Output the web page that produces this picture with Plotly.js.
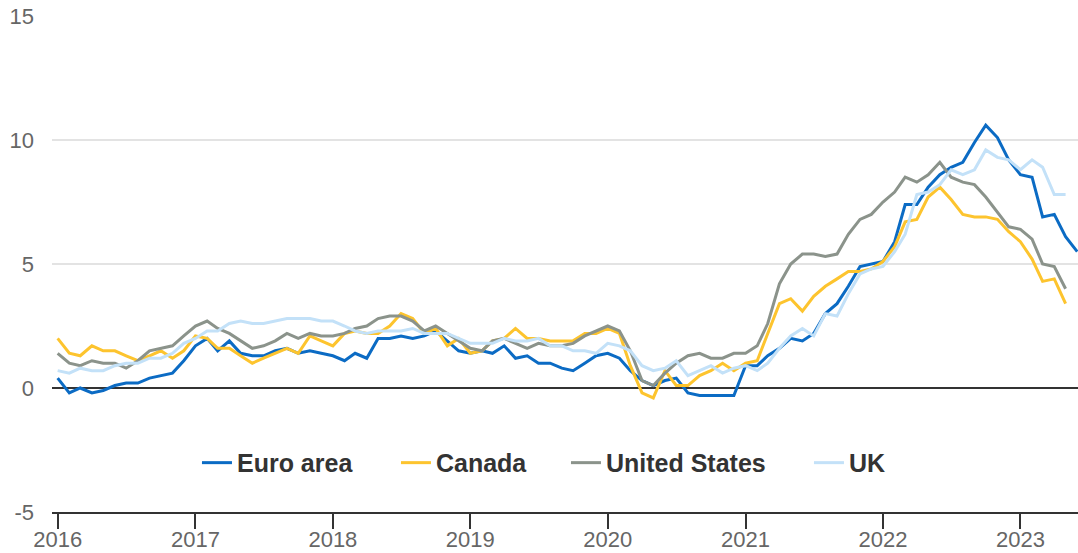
<!DOCTYPE html>
<html>
<head>
<meta charset="utf-8">
<script src="https://cdn.plot.ly/plotly-3.0.1.min.js"></script>
<style>
  html, body { margin: 0; padding: 0; background: #fff; }
  #chart { width: 1078px; height: 553px; }
</style>
</head>
<body>
<div id="chart"></div>
<script>
// Monthly annual inflation rates (%), January 2016 onwards
const startYear = 2016;
const seriesNames = ['Euro area', 'Canada', 'United States', 'UK'];
const seriesColors = ['#0b6bc4', '#fdc42e', '#8b938b', '#c3e1f8'];
const legendWidths = [154, 125, 198, 0];

const euroArea = [
  0.4, -0.2, 0.0, -0.2, -0.1, 0.1, 0.2, 0.2, 0.4, 0.5, 0.6, 1.1,
  1.7, 2.0, 1.5, 1.9, 1.4, 1.3, 1.3, 1.5, 1.6, 1.4, 1.5, 1.4,
  1.3, 1.1, 1.4, 1.2, 2.0, 2.0, 2.1, 2.0, 2.1, 2.3, 1.9, 1.5,
  1.4, 1.5, 1.4, 1.7, 1.2, 1.3, 1.0, 1.0, 0.8, 0.7, 1.0, 1.3,
  1.4, 1.2, 0.7, 0.3, 0.1, 0.3, 0.4, -0.2, -0.3, -0.3, -0.3, -0.3,
  0.9, 0.9, 1.3, 1.6, 2.0, 1.9, 2.2, 3.0, 3.4, 4.1, 4.9, 5.0,
  5.1, 5.9, 7.4, 7.4, 8.1, 8.6, 8.9, 9.1, 9.9, 10.6, 10.1, 9.2,
  8.6, 8.5, 6.9, 7.0, 6.1, 5.5
];
const canada = [
  2.0, 1.4, 1.3, 1.7, 1.5, 1.5, 1.3, 1.1, 1.3, 1.5, 1.2, 1.5,
  2.1, 2.0, 1.6, 1.6, 1.3, 1.0, 1.2, 1.4, 1.6, 1.4, 2.1, 1.9,
  1.7, 2.2, 2.3, 2.2, 2.2, 2.5, 3.0, 2.8, 2.2, 2.4, 1.7, 2.0,
  1.4, 1.5, 1.9, 2.0, 2.4, 2.0, 2.0, 1.9, 1.9, 1.9, 2.2, 2.2,
  2.4, 2.2, 0.9, -0.2, -0.4, 0.7, 0.1, 0.1, 0.5, 0.7, 1.0, 0.7,
  1.0, 1.1, 2.2, 3.4, 3.6, 3.1, 3.7, 4.1, 4.4, 4.7, 4.7, 4.8,
  5.1, 5.7, 6.7, 6.8, 7.7, 8.1, 7.6, 7.0, 6.9, 6.9, 6.8, 6.3,
  5.9, 5.2, 4.3, 4.4, 3.4
];
const unitedStates = [
  1.4, 1.0, 0.9, 1.1, 1.0, 1.0, 0.8, 1.1, 1.5, 1.6, 1.7, 2.1,
  2.5, 2.7, 2.4, 2.2, 1.9, 1.6, 1.7, 1.9, 2.2, 2.0, 2.2, 2.1,
  2.1, 2.2, 2.4, 2.5, 2.8, 2.9, 2.9, 2.7, 2.3, 2.5, 2.2, 1.9,
  1.6, 1.5, 1.9, 2.0, 1.8, 1.6, 1.8, 1.7, 1.7, 1.8, 2.1, 2.3,
  2.5, 2.3, 1.5, 0.3, 0.1, 0.6, 1.0, 1.3, 1.4, 1.2, 1.2, 1.4,
  1.4, 1.7, 2.6, 4.2, 5.0, 5.4, 5.4, 5.3, 5.4, 6.2, 6.8, 7.0,
  7.5, 7.9, 8.5, 8.3, 8.6, 9.1, 8.5, 8.3, 8.2, 7.7, 7.1, 6.5,
  6.4, 6.0, 5.0, 4.9, 4.0
];
const uk = [
  0.7, 0.6, 0.8, 0.7, 0.7, 0.9, 1.0, 1.0, 1.2, 1.2, 1.4, 1.8,
  2.0, 2.3, 2.3, 2.6, 2.7, 2.6, 2.6, 2.7, 2.8, 2.8, 2.8, 2.7,
  2.7, 2.5, 2.3, 2.2, 2.3, 2.3, 2.3, 2.4, 2.2, 2.2, 2.2, 2.0,
  1.8, 1.8, 1.8, 2.0, 1.9, 1.9, 2.0, 1.7, 1.7, 1.5, 1.5, 1.4,
  1.8, 1.7, 1.5, 0.9, 0.7, 0.8, 1.1, 0.5, 0.7, 0.9, 0.6, 0.8,
  0.9, 0.7, 1.0, 1.6, 2.1, 2.4, 2.1, 3.0, 2.9, 3.8, 4.6, 4.8,
  4.9, 5.5, 6.2, 7.8, 7.9, 8.2, 8.8, 8.6, 8.8, 9.6, 9.3, 9.2,
  8.8, 9.2, 8.9, 7.8, 7.8
];

const xTickYears = ['2016', '2017', '2018', '2019', '2020', '2021', '2022', '2023'];
const yTickValues = [-5, 0, 5, 10, 15];
const yTickLabels = ['-5', '0', '5', '10', '15'];

function monthDates(n) {
  const out = [];
  for (let i = 0; i < n; i++) {
    const y = startYear + Math.floor(i / 12);
    const m = (i % 12) + 1;
    out.push(y + '-' + (m < 10 ? '0' + m : m) + '-01');
  }
  return out;
}

const allSeries = [euroArea, canada, unitedStates, uk];
const traces = allSeries.map((vals, i) => {
  const t = {
    type: 'scatter',
    mode: 'lines',
    name: seriesNames[i],
    x: monthDates(vals.length),
    y: vals,
    line: { color: seriesColors[i], width: 3 },
    hoverinfo: 'skip'
  };
  if (legendWidths[i]) t.legendwidth = legendWidths[i];
  return t;
});

const fontFamily = '"Liberation Sans", Arial, Helvetica, sans-serif';

const layout = {
  width: 1078,
  height: 553,
  margin: { l: 52, r: 0, t: 16, b: 41, pad: 0 },
  paper_bgcolor: '#ffffff',
  plot_bgcolor: '#ffffff',
  font: { family: fontFamily, color: '#666666', size: 22 },
  showlegend: true,
  hovermode: false,
  xaxis: {
    type: 'date',
    range: ['2015-12-17', '2023-06-03'],
    tickmode: 'array',
    tickvals: xTickYears.map(y => y + '-01-01'),
    ticktext: xTickYears,
    ticks: 'outside',
    ticklen: 15,
    tickwidth: 2,
    tickcolor: '#333333',
    ticklabelstandoff: -8,
    showline: true,
    linecolor: '#333333',
    linewidth: 2,
    showgrid: false,
    zeroline: false,
    tickfont: { size: 22, color: '#666666', family: fontFamily },
    fixedrange: true
  },
  yaxis: {
    range: [-5, 15],
    tickmode: 'array',
    tickvals: yTickValues,
    ticktext: yTickLabels,
    showgrid: true,
    gridcolor: '#e3e3e3',
    gridwidth: 1.5,
    zeroline: true,
    zerolinecolor: '#333333',
    zerolinewidth: 1.5,
    showline: false,
    ticks: '',
    ticklabelstandoff: 17,
    tickfont: { size: 22, color: '#666666', family: fontFamily },
    fixedrange: true
  },
  legend: {
    orientation: 'h',
    x: 0.4795,
    xanchor: 'center',
    y: 0.099,
    yanchor: 'middle',
    bgcolor: 'rgba(0,0,0,0)',
    font: { size: 25, color: '#333333', family: fontFamily, weight: 'bold' },
    itemwidth: 30,
    traceorder: 'normal'
  }
};

Plotly.newPlot('chart', traces, layout, { staticPlot: true, displayModeBar: false });
</script>
</body>
</html>
